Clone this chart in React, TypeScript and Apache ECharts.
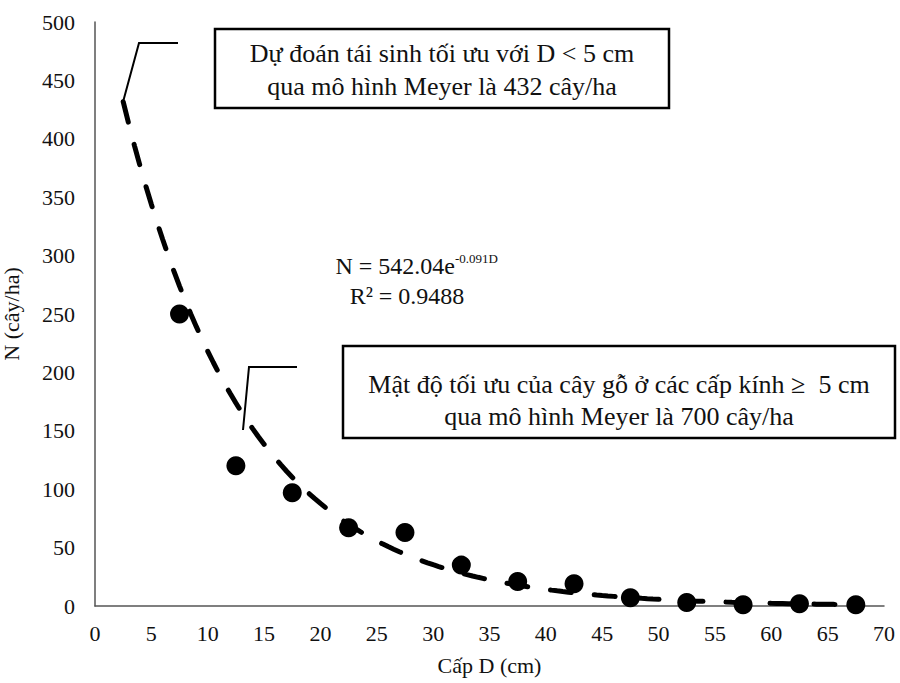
import React, { useEffect, useRef } from "react";
import * as echarts from "echarts";

// Diameter class midpoints (cm) and observed stem density (trees/ha)
const diameterClasses = [7.5, 12.5, 17.5, 22.5, 27.5, 32.5, 37.5, 42.5, 47.5, 52.5, 57.5, 62.5, 67.5];
const observedN = [250, 120, 97, 67, 63, 35, 21, 19, 7, 3, 1, 2, 1];

// Fitted Meyer curve N = a·e^(b·D), as printed on the chart
const meyerA = 542.04;
const meyerB = -0.091;
const fitFrom = 2.5;
const fitTo = 67.5;
const fitStep = 0.5;

const xTicks = { min: 0, max: 70, interval: 5 };
const yTicks = { min: 0, max: 500, interval: 50 };

const FONT = "Liberation Serif";

function meyerCurve(): number[][] {
  const pts: number[][] = [];
  for (let d = fitFrom; d <= fitTo + 1e-9; d += fitStep) {
    pts.push([d, meyerA * Math.exp(meyerB * d)]);
  }
  return pts;
}

export default function App() {
  const ref = useRef<HTMLDivElement>(null);

  useEffect(() => {
    document.body.style.margin = "0";
    if (!ref.current) return;
    const chart = echarts.init(ref.current, null, { renderer: "svg" });
    const axisLine = { show: true, lineStyle: { color: "#555", width: 1.5 } };
    const labelStyle = { color: "#111", fontSize: 22, fontFamily: FONT };
    const nameStyle = { color: "#111", fontSize: 22, fontFamily: FONT };

    chart.setOption({
      animation: false,
      backgroundColor: "#fff",
      textStyle: { fontFamily: FONT },
      grid: { left: 95, right: 16, top: 22, bottom: 77, outerBoundsMode: "none", containLabel: false },
      xAxis: {
        type: "value",
        ...xTicks,
        name: "Cấp D (cm)",
        nameLocation: "middle",
        nameGap: 48,
        nameTextStyle: nameStyle,
        axisLine,
        axisTick: { show: false },
        splitLine: { show: false },
        axisLabel: { ...labelStyle, margin: 16 },
      },
      yAxis: {
        type: "value",
        ...yTicks,
        name: "N (cây/ha)",
        nameLocation: "middle",
        nameGap: 73,
        nameRotate: 90,
        nameTextStyle: nameStyle,
        axisLine,
        axisTick: { show: false },
        splitLine: { show: false },
        axisLabel: { ...labelStyle, margin: 20 },
      },
      series: [
        {
          type: "line",
          data: meyerCurve(),
          showSymbol: false,
          smooth: false,
          lineStyle: { color: "#000", width: 5, type: [21, 23], cap: "round", opacity: 1 },
          z: 2,
        },
        {
          type: "scatter",
          data: diameterClasses.map((d, i) => [d, observedN[i]]),
          symbol: "circle",
          symbolSize: 19,
          itemStyle: { color: "#000", opacity: 1 },
          z: 3,
        },
      ],
      graphic: [
        // callout to the predicted regeneration value
        {
          type: "polyline",
          shape: { points: [[123, 102], [139, 43], [178, 43]] },
          style: { stroke: "#000", lineWidth: 2, fill: null },
          z: 10,
        },
        {
          type: "rect",
          shape: { x: 215, y: 29, width: 454, height: 79 },
          style: { fill: "#fff", stroke: "#000", lineWidth: 2.5 },
          z: 10,
        },
        {
          type: "text",
          x: 442,
          y: 70,
          style: {
            text: "Dự đoán tái sinh tối ưu với D < 5 cm\nqua mô hình Meyer là 432 cây/ha",
            fontFamily: FONT,
            fontSize: 26,
            lineHeight: 33,
            fill: "#111",
            align: "center",
            verticalAlign: "middle",
          },
          z: 11,
        },
        // callout to the optimal density of the larger classes
        {
          type: "polyline",
          shape: { points: [[243, 430], [249, 367], [297, 367]] },
          style: { stroke: "#000", lineWidth: 2, fill: null },
          z: 10,
        },
        {
          type: "rect",
          shape: { x: 343, y: 346, width: 552, height: 92 },
          style: { fill: "#fff", stroke: "#000", lineWidth: 2.5 },
          z: 10,
        },
        {
          type: "text",
          x: 619,
          y: 400,
          style: {
            text: "Mật độ tối ưu của cây gỗ ở các cấp kính ≥  5 cm\nqua mô hình Meyer là 700 cây/ha",
            fontFamily: FONT,
            fontSize: 26,
            lineHeight: 32,
            fill: "#111",
            align: "center",
            verticalAlign: "middle",
          },
          z: 11,
        },
        // regression equation
        {
          type: "text",
          x: 455,
          y: 266,
          style: {
            text: "N = 542.04e",
            fontFamily: FONT,
            fontSize: 24,
            fill: "#111",
            align: "right",
            verticalAlign: "middle",
          },
          z: 11,
        },
        {
          type: "text",
          x: 455,
          y: 258,
          style: {
            text: "-0.091D",
            fontFamily: FONT,
            fontSize: 13,
            fill: "#111",
            align: "left",
            verticalAlign: "middle",
          },
          z: 11,
        },
        {
          type: "text",
          x: 407,
          y: 296,
          style: {
            text: "R² = 0.9488",
            fontFamily: FONT,
            fontSize: 24,
            fill: "#111",
            align: "center",
            verticalAlign: "middle",
          },
          z: 11,
        },
      ],
    });

    return () => chart.dispose();
  }, []);

  return <div ref={ref} style={{ width: 900, height: 683 }} />;
}
